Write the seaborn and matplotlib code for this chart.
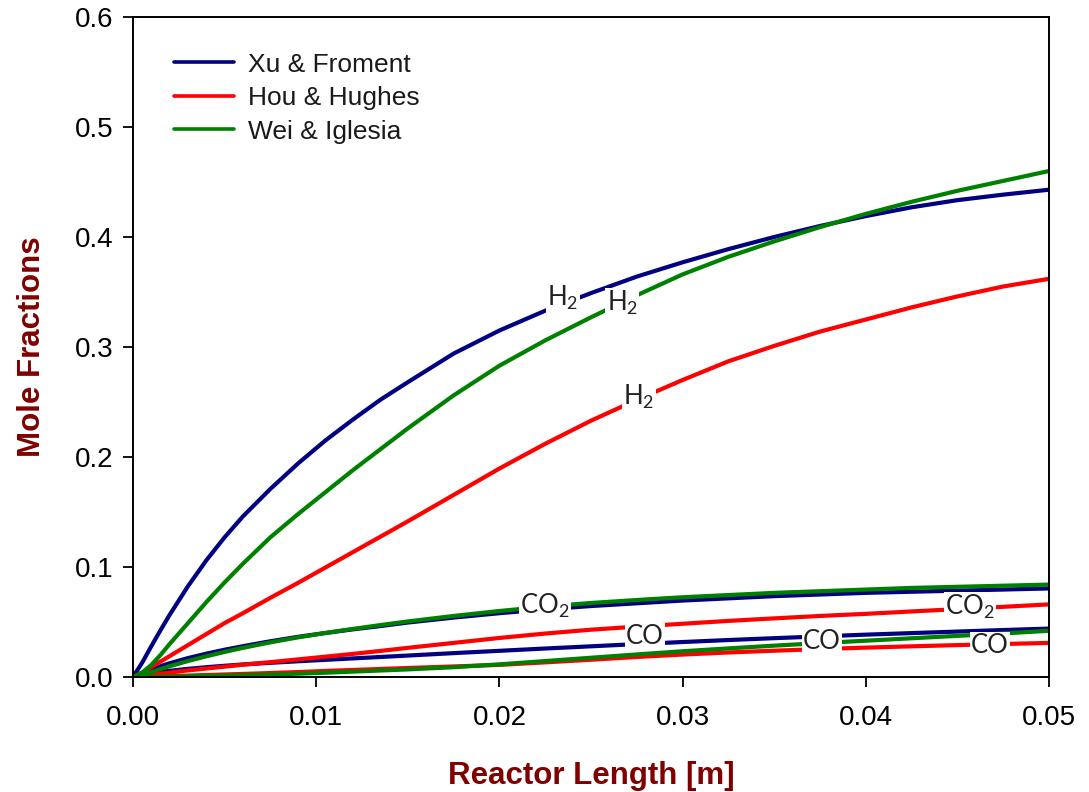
import numpy as np
import pandas as pd
import matplotlib
matplotlib.use("Agg")
import matplotlib.pyplot as plt
import seaborn as sns
from matplotlib.lines import Line2D

# ---------------- data ----------------
x = [0, 0.0005, 0.001, 0.0015, 0.002, 0.003, 0.004, 0.005, 0.006, 0.0075,
     0.009, 0.0105, 0.012, 0.0135, 0.015, 0.0175, 0.02, 0.0225, 0.025, 0.0275,
     0.03, 0.0325, 0.035, 0.0375, 0.04, 0.0425, 0.045, 0.0475, 0.05]

xu_h2 = [0, 0.013, 0.028, 0.0425, 0.0565, 0.0825, 0.106, 0.127, 0.146, 0.171,
         0.194, 0.215, 0.234, 0.252, 0.268, 0.294, 0.315, 0.333, 0.349, 0.364,
         0.377, 0.389, 0.400, 0.410, 0.419, 0.427, 0.4335, 0.4385, 0.443]
hou_h2 = [0, 0.004, 0.009, 0.014, 0.019, 0.029, 0.039, 0.049, 0.058, 0.072,
          0.0855, 0.0995, 0.1135, 0.1275, 0.1415, 0.1655, 0.1895, 0.212, 0.233, 0.252,
          0.270, 0.287, 0.301, 0.314, 0.325, 0.336, 0.346, 0.355, 0.362]
wei_h2 = [0, 0.004, 0.011, 0.020, 0.030, 0.049, 0.068, 0.086, 0.103, 0.127,
          0.148, 0.168, 0.188, 0.207, 0.226, 0.256, 0.283, 0.306, 0.327, 0.347,
          0.366, 0.382, 0.396, 0.409, 0.421, 0.432, 0.442, 0.451, 0.460]

xu_co2 = [0, 0.0035, 0.0068, 0.0098, 0.0125, 0.0172, 0.0212, 0.0248, 0.028, 0.0325,
          0.0365, 0.040, 0.0433, 0.0463, 0.0495, 0.054, 0.058, 0.0615, 0.0645, 0.067,
          0.0695, 0.0715, 0.0735, 0.075, 0.0765, 0.0775, 0.0785, 0.0795, 0.0805]
hou_co2 = [0, 0.001, 0.002, 0.003, 0.004, 0.006, 0.0077, 0.0094, 0.0112, 0.0135,
           0.016, 0.0185, 0.021, 0.0237, 0.0265, 0.031, 0.0355, 0.0395, 0.043, 0.0458,
           0.0484, 0.051, 0.0533, 0.0555, 0.0574, 0.0596, 0.0617, 0.0638, 0.066]
wei_co2 = [0, 0.002, 0.0045, 0.0072, 0.0098, 0.0145, 0.0188, 0.0228, 0.0265, 0.0315,
           0.036, 0.040, 0.0437, 0.0472, 0.0505, 0.0555, 0.060, 0.064, 0.0673, 0.070,
           0.0725, 0.0745, 0.0765, 0.078, 0.0795, 0.081, 0.082, 0.083, 0.084]

xu_co = [0, 0.0018, 0.0033, 0.0045, 0.0056, 0.0074, 0.0089, 0.0102, 0.0114, 0.0129,
         0.0143, 0.0156, 0.0169, 0.0182, 0.0195, 0.0217, 0.0238, 0.0259, 0.0279, 0.0299,
         0.0318, 0.0336, 0.0353, 0.0369, 0.0385, 0.0399, 0.0413, 0.0427, 0.044]
hou_co = [0, 0.0002, 0.0004, 0.0006, 0.0009, 0.0013, 0.0018, 0.0023, 0.0028, 0.0036,
          0.0045, 0.0055, 0.0064, 0.0073, 0.0082, 0.0096, 0.011, 0.0133, 0.0157, 0.0182,
          0.0204, 0.0223, 0.0239, 0.0254, 0.0267, 0.0279, 0.029, 0.030, 0.031]
wei_co = [0, 0.0, 0.0001, 0.0002, 0.0003, 0.0006, 0.001, 0.0013, 0.0017, 0.0022,
          0.003, 0.0039, 0.0049, 0.0059, 0.0069, 0.0089, 0.0115, 0.0145, 0.0175, 0.0205,
          0.0234, 0.026, 0.0285, 0.0308, 0.033, 0.0352, 0.0374, 0.0396, 0.042]

models = ["Xu & Froment", "Hou & Hughes", "Wei & Iglesia"]
species = ["H2", "CO2", "CO"]
x_ticks = [0.00, 0.01, 0.02, 0.03, 0.04, 0.05]
x_tick_labels = ["0.00", "0.01", "0.02", "0.03", "0.04", "0.05"]
y_ticks = [0.0, 0.1, 0.2, 0.3, 0.4, 0.5, 0.6]
y_tick_labels = ["0.0", "0.1", "0.2", "0.3", "0.4", "0.5", "0.6"]

# inline curve labels: (text, x, y)
label_text = [r"H$_2$", r"H$_2$", r"H$_2$", r"CO$_2$", r"CO$_2$", "CO", "CO", "CO"]
label_x = [0.02347, 0.0267, 0.02762, 0.02249, 0.04569, 0.02795, 0.03761, 0.04678]
label_y = [0.3445, 0.340, 0.2545, 0.0645, 0.0636, 0.0364, 0.0327, 0.0290]

# ---------------- build long table ----------------
series = {
    ("Xu & Froment", "H2"): xu_h2, ("Hou & Hughes", "H2"): hou_h2, ("Wei & Iglesia", "H2"): wei_h2,
    ("Xu & Froment", "CO2"): xu_co2, ("Hou & Hughes", "CO2"): hou_co2, ("Wei & Iglesia", "CO2"): wei_co2,
    ("Xu & Froment", "CO"): xu_co, ("Hou & Hughes", "CO"): hou_co, ("Wei & Iglesia", "CO"): wei_co,
}
rows = []
for (m, s), vals in series.items():
    for xi, yi in zip(x, vals):
        rows.append({"Model": m, "Species": s, "x": xi, "y": yi})
df = pd.DataFrame(rows)

# ---------------- style ----------------
sns.set_style("ticks")
plt.rcParams["font.family"] = ["Liberation Sans", "DejaVu Sans"]
plt.rcParams["mathtext.fontset"] = "custom"
plt.rcParams["mathtext.rm"] = "Lato"
plt.rcParams["mathtext.it"] = "Lato"
plt.rcParams["mathtext.default"] = "regular"

palette = {"Xu & Froment": "#000080", "Hou & Hughes": "#ff0000", "Wei & Iglesia": "#008000"}

fig = plt.figure(figsize=(10.89, 7.92), dpi=100)
ax = fig.add_axes([133 / 1089, 1 - 677 / 792, (1049 - 133) / 1089, (677 - 17) / 792])

sns.lineplot(data=df, x="x", y="y", hue="Model", units="Species", estimator=None,
             palette=palette, hue_order=models, sort=False, linewidth=3.0,
             ax=ax, legend=False)
for ln in ax.lines:
    ln.set_solid_joinstyle("round")
    ln.set_solid_capstyle("butt")

# ---------------- axes ----------------
ax.set_xlim(0, 0.05)
ax.set_ylim(0, 0.6)
ax.set_xticks(x_ticks)
ax.set_xticklabels(x_tick_labels)
ax.set_yticks(y_ticks)
ax.set_yticklabels(y_tick_labels)
ax.tick_params(axis="both", direction="out", length=7, width=1.3, labelsize=20,
               colors="black", top=False, right=False)
ax.tick_params(axis="x", pad=13)
ax.tick_params(axis="y", pad=7)
for sp in ax.spines.values():
    sp.set_visible(True)
    sp.set_linewidth(1.4)
    sp.set_color("black")

ax.set_xlabel("Reactor Length [m]", fontsize=22.5, fontweight="bold", color="#800000", labelpad=22)
ax.set_ylabel("Mole Fractions", fontsize=22.5, fontweight="bold", color="#800000", labelpad=20)

# inline labels
for t, lx, ly in zip(label_text, label_x, label_y):
    ax.text(lx, ly, t, fontsize=18.5, family="Lato", color="#222222", ha="center", va="center",
            bbox=dict(facecolor="white", edgecolor="none", pad=0.8), zorder=5)

# legend
handles = [Line2D([0], [0], color=palette[m], lw=2.6) for m in models]
leg = ax.legend(handles, models, loc="upper left", bbox_to_anchor=(0.033, 0.962), frameon=False,
                fontsize=19, handlelength=2.3, handletextpad=0.53, labelspacing=0.36,
                borderaxespad=0.0)
for txt in leg.get_texts():
    txt.set_color("#1a1a1a")

fig.savefig("out.png", dpi=100)
